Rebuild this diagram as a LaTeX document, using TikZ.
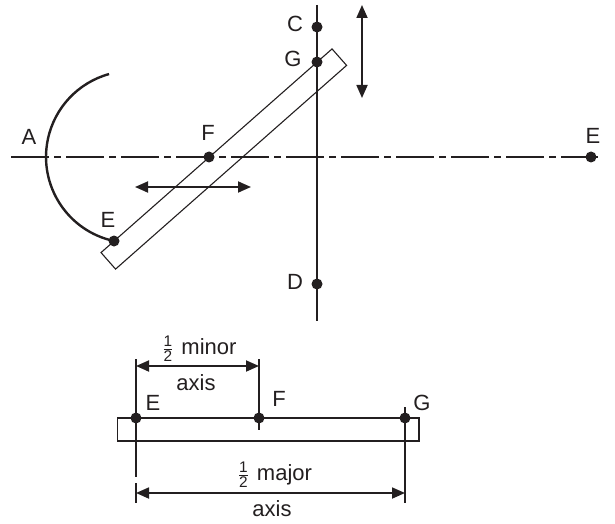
\documentclass[tikz,border=0pt]{standalone}
\usepackage{amsmath}
\usepackage{fontspec}
\setmainfont{Liberation Sans}
\usetikzlibrary{arrows.meta}
\definecolor{ink}{HTML}{231F20}
\newcommand{\halfsym}{$\tfrac{\text{1}}{\text{2}}$}
\tikzset{
	dotmark/.style={circle, fill=ink, inner sep=0pt, minimum size=11pt},
	lbl/.style={text=ink, inner sep=0pt, font=\fontsize{22}{26}\selectfont},
	slab/.style={draw=ink, line width=1.1pt, inner sep=0pt},
	heavy/.style={draw=ink, line width=1.8pt},
	dimarrow/.style={draw=ink, line width=1.8pt, {Triangle[length=13pt,width=11pt]}-{Triangle[length=13pt,width=11pt]}}
}
\begin{document}
\begin{tikzpicture}[x=1pt, y=1pt]
	\useasboundingbox (0,0) rectangle (615,523);
	% upper figure
	\coordinate (axis start) at (11,366);
	\coordinate (axis end) at (598,366);
	\coordinate (line top) at (317,518);
	\coordinate (line bottom) at (317,202);
	\node[slab, rotate=41.4, minimum width=308pt, minimum height=22pt] (trammel) at (223.8,364) {};
	\draw[heavy, dash pattern=on 38pt off 5pt on 7pt off 5pt] (axis start) -- (axis end);
	\draw[heavy] (line top) -- (line bottom);
	\node[dotmark] (C) at (317,496) {};
	\node[dotmark] (G) at (317,461) {};
	\node[dotmark] (D) at (317,239) {};
	\node[dotmark] (F) at (209,366) {};
	\node[dotmark] (E right) at (591,366) {};
	\node[dotmark] (E left) at (114,282) {};
	\draw[heavy, line width=2.4pt] (E left.center) arc[start angle=257.9, end angle=105.5, radius=86pt] coordinate (arc end);
	\coordinate (up tip) at (362,518);
	\coordinate (down tip) at (362,425);
	\draw[dimarrow] (up tip) -- (down tip);
	\coordinate (left tip) at (135,336);
	\coordinate (right tip) at (251,336);
	\draw[dimarrow] (left tip) -- (right tip);
	\node[lbl] (label A) at (29,386) {A};
	\node[lbl] (label F) at (208,390) {F};
	\node[lbl] (label C) at (295,499) {C};
	\node[lbl] (label G) at (293,464) {G};
	\node[lbl] (label D) at (295,241) {D};
	\node[lbl] (label E) at (108,303) {E};
	\node[lbl] (label Er) at (593,387) {E};
	% lower figure
	\node[slab, line width=1.6pt, minimum width=301.5pt, minimum height=23pt] (bar) at (268.25,93.8) {};
	\node[dotmark] (bar E) at (136,105) {};
	\node[dotmark] (bar F) at (259,105) {};
	\node[dotmark] (bar G) at (405,105) {};
	\coordinate (E top) at (136,164);
	\coordinate (E low) at (136,46);
	\coordinate (E foot top) at (136,40);
	\coordinate (E foot) at (136,20);
	\coordinate (F top) at (259,164);
	\coordinate (F low) at (259,93);
	\coordinate (G top) at (405,116);
	\coordinate (G foot) at (405,20);
	\draw[heavy] (E top) -- (E low);
	\draw[heavy] (E foot top) -- (E foot);
	\draw[heavy] (F top) -- (F low);
	\draw[heavy] (G top) -- (G foot);
	\coordinate (minor a) at (136,157);
	\coordinate (minor b) at (259,157);
	\coordinate (major a) at (136,30);
	\coordinate (major b) at (405,30);
	\draw[dimarrow] (minor a) -- (minor b);
	\draw[dimarrow] (major a) -- (major b);
	\node[lbl] (minor text) at (199.5,174) {\halfsym\hspace{8pt}minor};
	\node[lbl] (minor axis) at (196,140) {axis};
	\node[lbl] (major text) at (275,48) {\halfsym\hspace{8pt}major};
	\node[lbl] (major axis) at (272,14) {axis};
	\node[lbl] (bar label E) at (153,120) {E};
	\node[lbl] (bar label F) at (279,124) {F};
	\node[lbl] (bar label G) at (422,120) {G};
\end{tikzpicture}
\end{document}
